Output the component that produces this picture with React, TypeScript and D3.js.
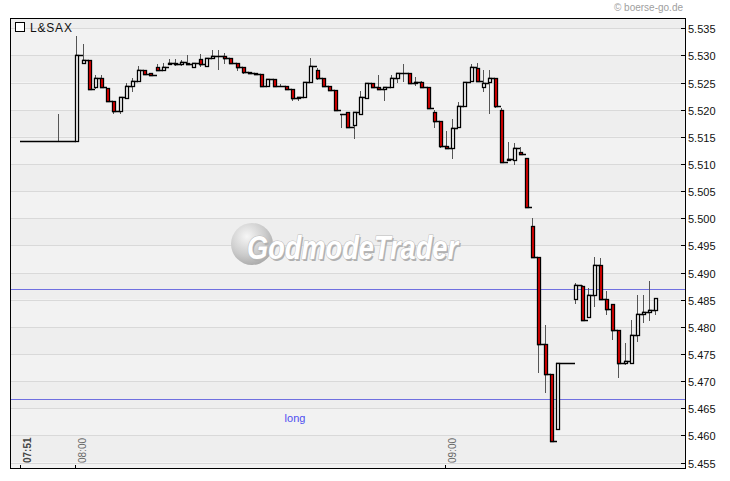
import React from 'react';
import * as d3 from 'd3';

// L&SAX 1-minute step candles, 07:51 – 09:34. null = no trade that minute.
const startTime = '07:51';

const opens = [
  5.5142, 5.5142, 5.5142, 5.5142, 5.5142, 5.5142, 5.5142, 5.5142, 5.5142,
  5.5142, 5.5286, 5.5292, 5.5242, 5.5258, 5.5240, 5.5217, 5.5198, 5.5221, 5.5244,
  5.5253, 5.5273, 5.5267, 5.5278, 5.5274, 5.5284, 5.5287, 5.5284, 5.5287, 5.5278,
  5.5293, 5.5281, 5.5295, 5.5299, 5.5299, 5.5295, 5.5287, 5.5279, 5.5270, 5.5267,
  5.5265, 5.5244, 5.5256, 5.5244, 5.5244, 5.5238, 5.5221, 5.5224, 5.5252, 5.5273,
  5.5258, 5.5243, 5.5236, 5.5193, 5.5195, 5.5171, 5.5192, 5.5221, 5.5249, 5.5242,
  5.5238, 5.5242, 5.5258, 5.5267, 5.5267, 5.5249, 5.5251, 5.5242, 5.5195, 5.5179,
  5.5134, 5.5130, 5.5169, 5.5206, 5.5253, 5.5277, 5.5242, 5.5252, 5.5258, 5.5200,
  5.5107, 5.5108, 5.5123, 5.5111, 5.4986, 5.4929, 5.4768, 5.4713, 5.4611, null,
  null, 5.4852, 5.4875, 5.4818, 5.4859, 5.4914, 5.4851, 5.4843, 5.4794, 5.4733,
  5.4734, 5.4785, 5.4823, 5.4828, 5.4831,
];
const highs = [
  5.5142, 5.5142, 5.5142, 5.5142, 5.5142, 5.5142, 5.5192, 5.5142, 5.5142,
  5.5336, 5.5321, 5.5292, 5.5264, 5.5264, 5.5240, 5.5217, 5.5223, 5.5250, 5.5259,
  5.5281, 5.5273, 5.5267, 5.5284, 5.5287, 5.5293, 5.5293, 5.5292, 5.5300, 5.5287,
  5.5302, 5.5295, 5.5310, 5.5310, 5.5304, 5.5295, 5.5287, 5.5279, 5.5270, 5.5267,
  5.5265, 5.5256, 5.5257, 5.5248, 5.5244, 5.5238, 5.5224, 5.5252, 5.5295, 5.5276,
  5.5258, 5.5243, 5.5236, 5.5193, 5.5195, 5.5195, 5.5235, 5.5249, 5.5249, 5.5264,
  5.5242, 5.5264, 5.5267, 5.5285, 5.5267, 5.5260, 5.5253, 5.5242, 5.5200, 5.5179,
  5.5161, 5.5183, 5.5215, 5.5252, 5.5284, 5.5287, 5.5273, 5.5274, 5.5258, 5.5204,
  5.5140, 5.5138, 5.5132, 5.5111, 5.5001, 5.4929, 5.4803, 5.4713, 5.4734, null,
  null, 5.4881, 5.4877, 5.4872, 5.4929, 5.4926, 5.4866, 5.4843, 5.4794, 5.4770,
  5.4813, 5.4859, 5.4859, 5.4885, 5.4853,
];
const lows = [
  5.5142, 5.5142, 5.5142, 5.5142, 5.5142, 5.5142, 5.5142, 5.5142, 5.5142,
  5.5142, 5.5286, 5.5238, 5.5238, 5.5242, 5.5217, 5.5193, 5.5193, 5.5221, 5.5233,
  5.5252, 5.5265, 5.5264, 5.5274, 5.5274, 5.5284, 5.5281, 5.5281, 5.5284, 5.5278,
  5.5278, 5.5281, 5.5295, 5.5274, 5.5284, 5.5284, 5.5272, 5.5266, 5.5267, 5.5264,
  5.5244, 5.5244, 5.5244, 5.5244, 5.5238, 5.5217, 5.5217, 5.5224, 5.5252, 5.5254,
  5.5243, 5.5234, 5.5198, 5.5167, 5.5168, 5.5147, 5.5190, 5.5220, 5.5242, 5.5238,
  5.5217, 5.5242, 5.5249, 5.5252, 5.5249, 5.5244, 5.5240, 5.5201, 5.5167, 5.5130,
  5.5129, 5.5109, 5.5169, 5.5206, 5.5253, 5.5253, 5.5233, 5.5193, 5.5203, 5.5104,
  5.5107, 5.5098, 5.5118, 5.5020, 5.4926, 5.4715, 5.4678, 5.4590, 5.4611, null,
  null, 5.4843, 5.4813, 5.4818, 5.4836, 5.4851, 5.4822, 5.4776, 5.4706, 5.4729,
  5.4734, 5.4773, 5.4808, 5.4811, 5.4822,
];
const closes = [
  5.5142, 5.5142, 5.5142, 5.5142, 5.5142, 5.5142, 5.5142, 5.5142, 5.5142,
  5.5301, 5.5292, 5.5238, 5.5258, 5.5242, 5.5217, 5.5198, 5.5223, 5.5244, 5.5253,
  5.5273, 5.5265, 5.5264, 5.5274, 5.5279, 5.5287, 5.5285, 5.5288, 5.5284, 5.5287,
  5.5284, 5.5295, 5.5299, 5.5299, 5.5295, 5.5287, 5.5279, 5.5270, 5.5267, 5.5265,
  5.5244, 5.5256, 5.5244, 5.5244, 5.5238, 5.5221, 5.5224, 5.5252, 5.5281, 5.5258,
  5.5243, 5.5236, 5.5200, 5.5193, 5.5168, 5.5195, 5.5224, 5.5249, 5.5242, 5.5238,
  5.5242, 5.5258, 5.5267, 5.5267, 5.5249, 5.5251, 5.5242, 5.5203, 5.5179, 5.5134,
  5.5129, 5.5166, 5.5207, 5.5252, 5.5279, 5.5253, 5.5249, 5.5258, 5.5206, 5.5104,
  5.5109, 5.5129, 5.5118, 5.5020, 5.4929, 5.4768, 5.4713, 5.4590, 5.4734, null,
  null, 5.4877, 5.4813, 5.4859, 5.4914, 5.4851, 5.4833, 5.4794, 5.4733, 5.4738,
  5.4785, 5.4823, 5.4828, 5.4831, 5.4853,
];

const yTicks = [5.455, 5.46, 5.465, 5.47, 5.475, 5.48, 5.485, 5.49, 5.495, 5.5, 5.505, 5.51, 5.515, 5.52, 5.525, 5.53, 5.535];
const timeLabels = ['07:51', '08:00', '09:00'];
const levelLines = [5.487, 5.4667];
const levelLabel = 'long';
const symbol = 'L&SAX';
const copyright = '© boerse-go.de';

const toMin = (s: string) => {
  const [h, m] = s.split(':').map(Number);
  return h * 60 + m;
};

const W = 730;
const H = 481;
const plot = { left: 10, top: 18, right: 685, bottom: 468 };
const font = "'Liberation Sans', Arial, sans-serif";

export default function App() {
  const x = d3.scaleLinear().domain([toMin('07:51'), toMin('09:00')]).range([20, 445]);
  const y = d3.scaleLinear().domain([5.455, 5.535]).range([462.6, 28.3]);
  const t0 = toMin(startTime);

  const candles = opens
    .map((o, i) => ({ t: t0 + i, o, h: highs[i], l: lows[i], c: closes[i] }))
    .filter((d) => d.o !== null) as { t: number; o: number; h: number; l: number; c: number }[];

  // alternating bands between grid lines
  const bandEdges = [plot.top, ...yTicks.slice().reverse().map((v) => y(v)), plot.bottom];

  const px = (t: number) => Math.round(x(t));
  const py = (v: number) => Math.round(y(v));

  // close-to-next-minute steps as one path, so flat stretches stay smooth
  const steps = d3.path();
  candles.slice(0, -1).forEach((d, i) => {
    steps.moveTo(px(d.t), py(d.c) + 0.5);
    steps.lineTo(px(candles[i + 1].t) + 1, py(d.c) + 0.5);
  });

  return (
    <svg width={W} height={H} style={{ position: 'absolute', left: 0, top: 0, background: '#fff' }} fontFamily={font}>
      <defs>
        <radialGradient id="logoBall" cx="0.38" cy="0.32" r="0.75">
          <stop offset="0" stopColor="#f6f6f6" />
          <stop offset="0.6" stopColor="#cbcbcb" />
          <stop offset="1" stopColor="#a5a5a5" />
        </radialGradient>
      </defs>
      <rect x={0} y={0} width={W} height={H} fill="#fff" />
      {bandEdges.slice(0, -1).map((e, i) => (
        <rect key={i} x={plot.left} y={e} width={plot.right - plot.left} height={bandEdges[i + 1] - e}
          fill={i % 2 === 0 ? '#eeeeee' : '#f2f2f2'} />
      ))}
      {yTicks.map((v) => (
        <line key={v} x1={plot.left} x2={plot.right} y1={py(v) + 0.5} y2={py(v) + 0.5} stroke="#d9d9d9" />
      ))}

      {/* watermark */}
      <g>
        <circle cx={252} cy={244} r={21} fill="url(#logoBall)" />
        <text x={248.5} y={260.5} fontSize={34} fontWeight="bold" fontStyle="italic" fill="#b0b0b0"
          textLength={211} lengthAdjust="spacingAndGlyphs">GodmodeTrader</text>
        <text x={247} y={259} fontSize={34} fontWeight="bold" fontStyle="italic" fill="#fff"
          stroke="#bdbdbd" strokeWidth={1.2} paintOrder="stroke" textLength={211} lengthAdjust="spacingAndGlyphs">GodmodeTrader</text>
      </g>

      {levelLines.map((v) => (
        <line key={v} x1={plot.left} x2={plot.right} y1={py(v) + 0.5} y2={py(v) + 0.5} stroke="#6f6fe0" />
      ))}
      <text x={295} y={422} fontSize={11} fill="#4f4ff0" textAnchor="middle">{levelLabel}</text>

      {/* wicks */}
      {candles.map((d) => (
        <line key={'w' + d.t} x1={px(d.t) + 1.5} x2={px(d.t) + 1.5} y1={py(d.h)} y2={py(d.l)}
          stroke="#555" strokeWidth={1} />
      ))}
      <path d={steps.toString()} fill="none" stroke="#000" strokeWidth={1.6} />
      {/* bodies (flat minutes are left to the step line) */}
      {candles.map((d) => {
        const top = py(Math.max(d.o, d.c));
        const bot = py(Math.min(d.o, d.c));
        if (bot - top < 1) return null;
        return (
          <rect key={'b' + d.t} x={px(d.t) + 0.5} y={top + 0.5} width={3} height={bot - top}
            fill={d.c < d.o ? '#e80000' : '#fff'} stroke="#000" strokeWidth={1.3} />
        );
      })}

      {/* frame */}
      <rect x={plot.left + 0.5} y={plot.top + 0.5} width={plot.right - plot.left} height={plot.bottom - plot.top}
        fill="none" stroke="#000" strokeWidth={1} shapeRendering="crispEdges" />

      {/* y axis */}
      {yTicks.map((v) => (
        <g key={'t' + v}>
          <line x1={plot.right - 4} x2={plot.right + 1} y1={py(v) + 0.5} y2={py(v) + 0.5} stroke="#000" shapeRendering="crispEdges" />
          <text x={plot.right + 3} y={py(v) + 4.5} fontSize={11} fill="#111">{d3.format('.3f')(v)}</text>
        </g>
      ))}

      {/* x axis */}
      {timeLabels.map((s, i) => {
        const xt = px(toMin(s));
        return (
          <g key={s}>
            <line x1={xt + 0.5} x2={xt + 0.5} y1={plot.bottom - 3} y2={plot.bottom} stroke="#000" shapeRendering="crispEdges" />
            <text transform={`translate(${xt + 10.5},463) rotate(-90)`} fontSize={10}
              fill={i === 0 ? '#444' : '#666'} fontWeight={i === 0 ? 'bold' : 'normal'}>{s}</text>
          </g>
        );
      })}

      {/* legend */}
      <rect x={15.5} y={22.5} width={9} height={9} fill="#fff" stroke="#000" shapeRendering="crispEdges" />
      <text x={30} y={32} fontSize={12} letterSpacing={0.8} fill="#111">{symbol}</text>
      <text x={683} y={11} fontSize={10} fill="#a0a0a0" textAnchor="end">{copyright}</text>
    </svg>
  );
}
